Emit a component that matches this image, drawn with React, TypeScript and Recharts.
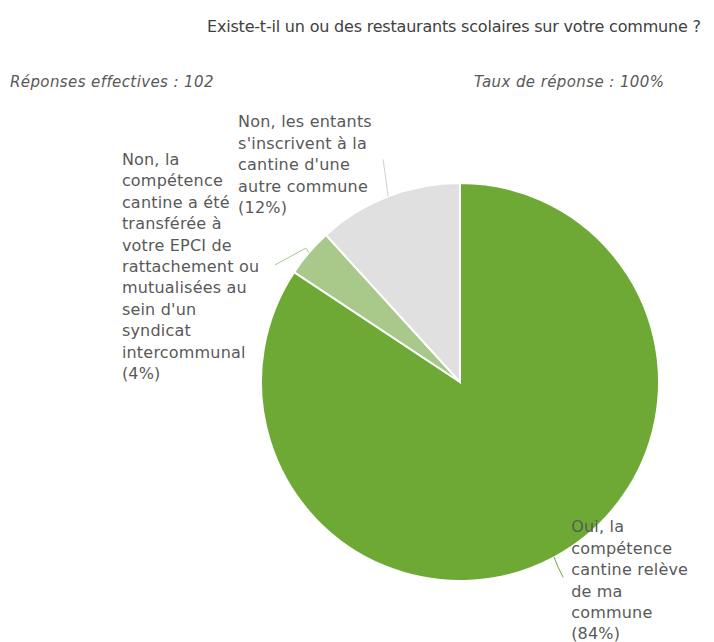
import { PieChart, Pie, Cell } from "recharts";

const answers = [
  "Oui, la compétence cantine relève de ma commune",
  "Non, la compétence cantine a été transférée à votre EPCI de rattachement ou mutualisées au sein d'un syndicat intercommunal",
  "Non, les enfants s'inscrivent à la cantine d'une autre commune",
];
const counts = [86, 4, 12];
const labelLines = [
  ["Oui, la", "compétence", "cantine relève", "de ma", "commune"],
  ["Non, la", "compétence", "cantine a été", "transférée à", "votre EPCI de", "rattachement ou", "mutualisées au", "sein d'un", "syndicat", "intercommunal"],
  ["Non, les entants", "s'inscrivent à la", "cantine d'une", "autre commune"],
];
const colors = ["#6DA934", "#A8C98A", "#E0E0E0"];
const lineColors = ["#6DA934", "#A8C98A", "#D0D0D0"];

// offsets from the slice edge point (leader line + text block)
const labelLayout = [
  { bend: [4, 10], end: [9, 20], tx: 17, ty: -31 },
  { bend: [-3, -4.5], end: [-34, 12.5], tx: -187, ty: -93.5 },
  { bend: [-2, -15], end: [-5, -37], tx: -150, ty: -75 },
];

const total = counts.reduce((a, b) => a + b, 0);
const data = answers.map((name, i) => ({ name, value: counts[i] }));

const FONT = "'DejaVu Sans', sans-serif";
const LINE_H = 21.4;

const renderLabel = (props: any) => {
  const { cx, cy, midAngle, outerRadius, index, value } = props;
  const RAD = Math.PI / 180;
  const ex = cx + outerRadius * Math.cos(-midAngle * RAD);
  const ey = cy + outerRadius * Math.sin(-midAngle * RAD);
  const lay = labelLayout[index];
  const lines = [...labelLines[index], `(${Math.round((value / total) * 100)}%)`];
  return (
    <g key={`lbl-${index}`}>
      <polyline
        points={`${ex},${ey} ${ex + lay.bend[0]},${ey + lay.bend[1]} ${ex + lay.end[0]},${ey + lay.end[1]}`}
        fill="none"
        stroke={lineColors[index]}
        strokeWidth={1}
      />
      <text
        x={ex + lay.tx}
        y={ey + lay.ty}
        fill="#595959"
        fontSize={16}
        letterSpacing={0.2}
        fontFamily={FONT}
        dominantBaseline="central"
      >
        {lines.map((l, i) => (
          <tspan key={i} x={ex + lay.tx} y={ey + lay.ty + i * LINE_H}>
            {l}
          </tspan>
        ))}
      </text>
    </g>
  );
};

export default function App() {
  return (
    <div style={{ position: "absolute", left: 0, top: 0, width: 714, height: 642, background: "#fff", fontFamily: FONT }}>
      <div style={{ position: "absolute", left: 207, top: 17, fontSize: 16, color: "#404040", letterSpacing: -0.2, whiteSpace: "nowrap" }}>
        Existe-t-il un ou des restaurants scolaires sur votre commune ?
      </div>
      <div style={{ position: "absolute", left: 10, top: 73, fontSize: 15, color: "#595959", fontStyle: "italic", letterSpacing: 0.4 }}>
        Réponses effectives : {total}
      </div>
      <div style={{ position: "absolute", left: 474, top: 73, fontSize: 15, color: "#595959", fontStyle: "italic", letterSpacing: 0.4 }}>
        Taux de réponse : 100%
      </div>
      <PieChart
        width={714}
        height={642}
        margin={{ top: 0, right: 0, bottom: 0, left: 0 }}
        style={{ position: "absolute", left: 0, top: 0 }}
      >
        <Pie
          data={data}
          dataKey="value"
          nameKey="name"
          cx={460}
          cy={382}
          outerRadius={199}
          startAngle={90}
          endAngle={-270}
          stroke="#fff"
          strokeWidth={2}
          label={renderLabel}
          labelLine={false}
          isAnimationActive={false}
        >
          {data.map((d, i) => (
            <Cell key={d.name} fill={colors[i]} />
          ))}
        </Pie>
      </PieChart>
    </div>
  );
}
